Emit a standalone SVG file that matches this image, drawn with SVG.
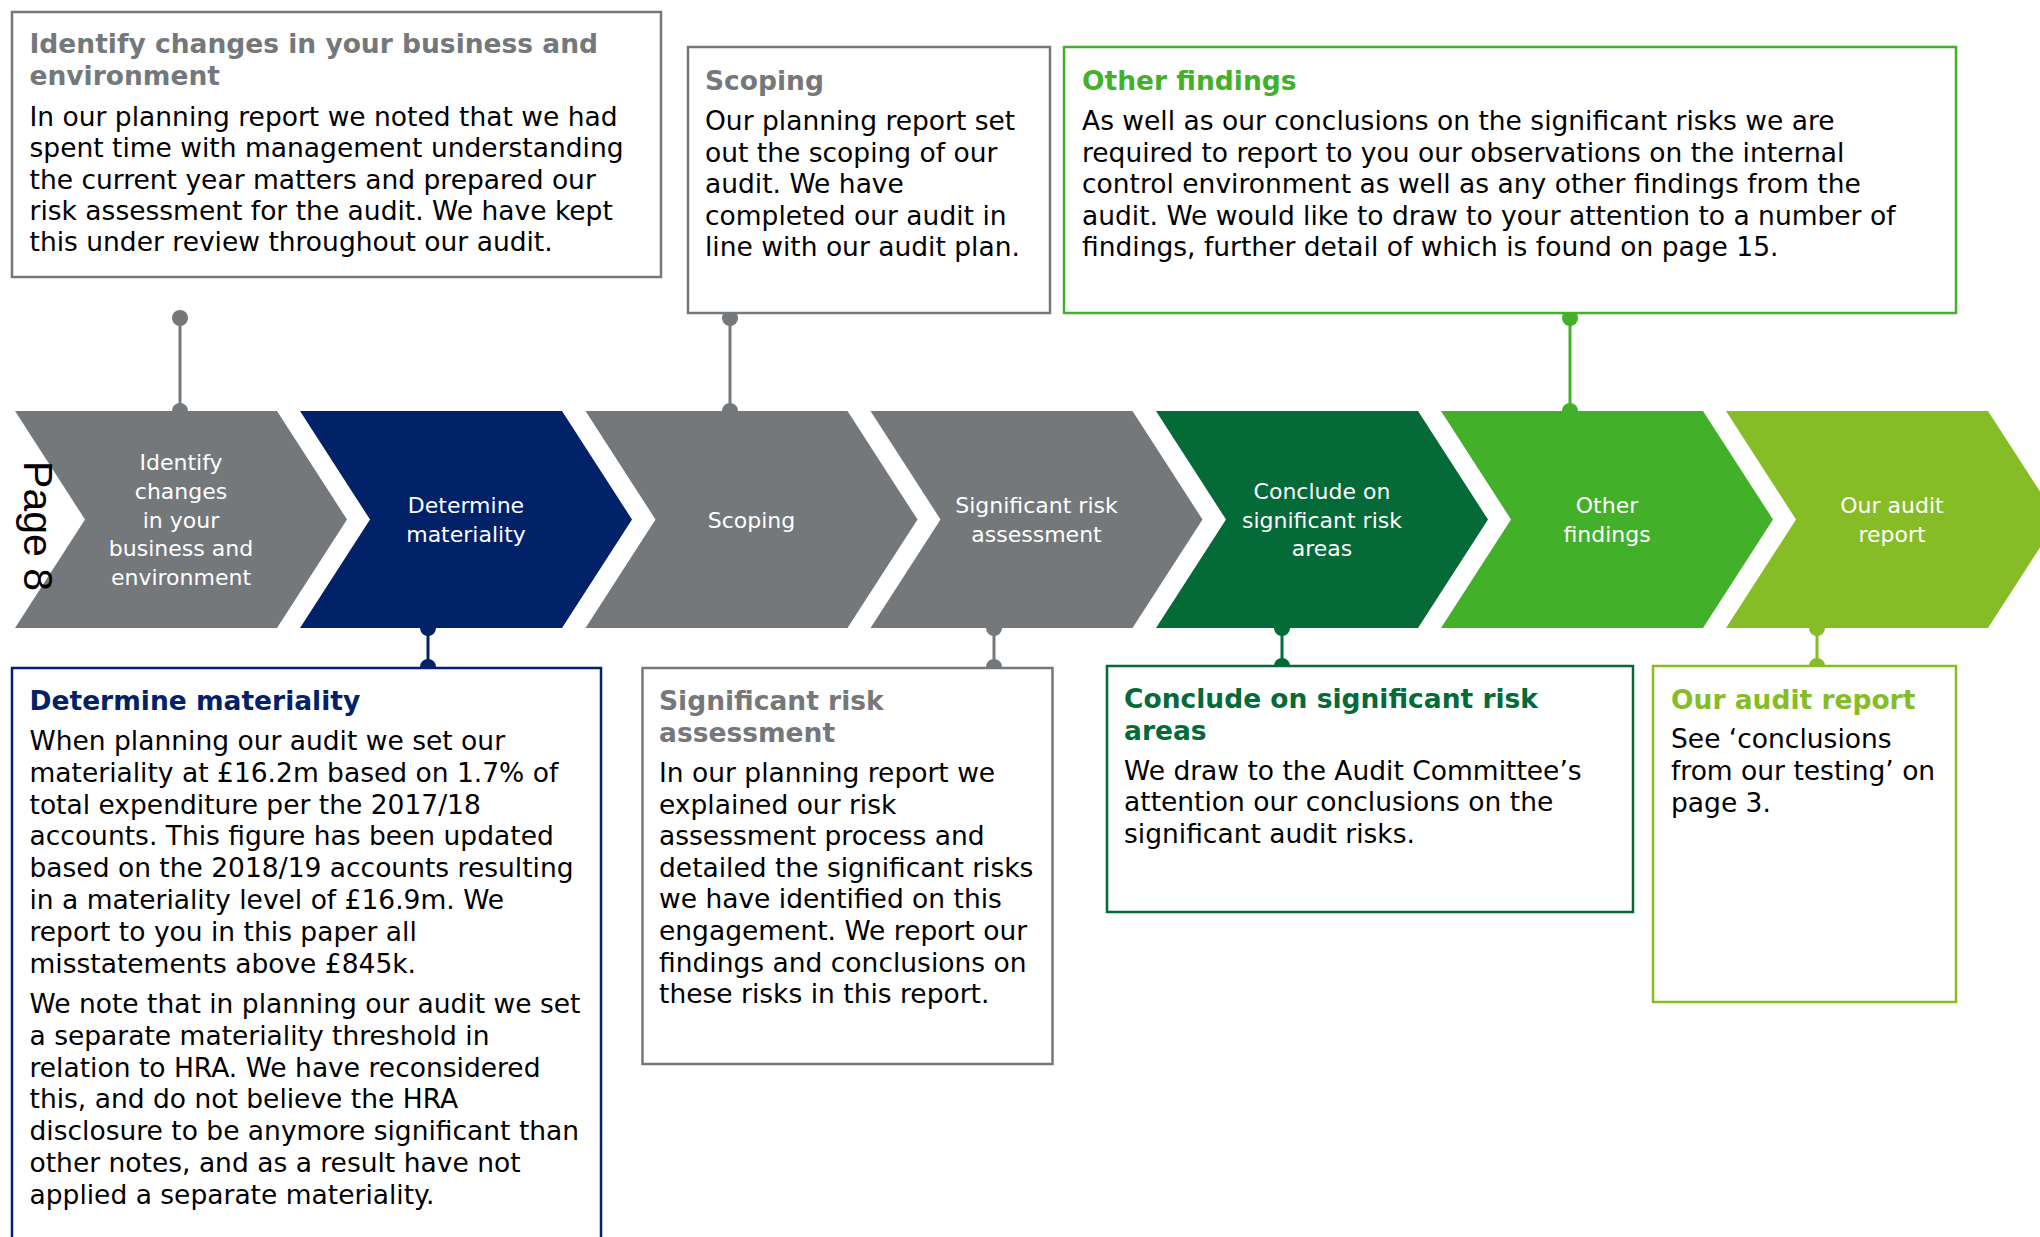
<svg xmlns="http://www.w3.org/2000/svg" width="2040" height="1237" viewBox="0 0 2040 1237">
  <style>
    text { font-family: "DejaVu Sans", Verdana, sans-serif; }
    .body { font-size: 26.5px; fill: #000000; }
    .ttl { font-size: 26.5px; font-weight: bold; }
    .lbl { font-size: 22px; fill: #ffffff; text-anchor: middle; }
    .box { fill: #ffffff; stroke-width: 2.5; }
    .gray { fill: #75787b; }
    .navy { fill: #012169; }
    .dgreen { fill: #046a38; }
    .green { fill: #43b02a; }
    .lime { fill: #86bc25; }
    .s-gray { stroke: #75787b; }
    .s-navy { stroke: #012169; }
    .s-dgreen { stroke: #046a38; }
    .s-green { stroke: #43b02a; }
    .s-lime { stroke: #86bc25; }
    .pin { stroke-width: 3; fill: none; }
    .page { font-family: "Liberation Sans", Arial, sans-serif; font-size: 41px; fill: #000000; text-anchor: middle; }
  </style>

  <rect width="2040" height="1237" fill="#ffffff"/>

  <!-- process chevrons -->
  <g id="step-identify">
    <path class="gray" d="M15,411 H277 L347,519.5 L277,628 H15 L85,519.5 Z"/>
    <text class="lbl"><tspan x="181" y="470.3">Identify</tspan><tspan x="181" y="498.9">changes</tspan><tspan x="181" y="527.5">in your</tspan><tspan x="181" y="556.1">business and</tspan><tspan x="181" y="584.7">environment</tspan></text>
  </g>
  <g id="step-materiality">
    <path class="navy" d="M300,411 H562 L632,519.5 L562,628 H300 L370,519.5 Z"/>
    <text class="lbl"><tspan x="466" y="513.2">Determine</tspan><tspan x="466" y="541.8">materiality</tspan></text>
  </g>
  <g id="step-scoping">
    <path class="gray" d="M585.5,411 H847.5 L917.5,519.5 L847.5,628 H585.5 L655.5,519.5 Z"/>
    <text class="lbl" x="751.5" y="527.5">Scoping</text>
  </g>
  <g id="step-risk">
    <path class="gray" d="M870.5,411 H1132.5 L1202.5,519.5 L1132.5,628 H870.5 L940.5,519.5 Z"/>
    <text class="lbl"><tspan x="1036.5" y="513.2">Significant risk</tspan><tspan x="1036.5" y="541.8">assessment</tspan></text>
  </g>
  <g id="step-conclude">
    <path class="dgreen" d="M1156,411 H1418 L1488,519.5 L1418,628 H1156 L1226,519.5 Z"/>
    <text class="lbl"><tspan x="1322" y="498.9">Conclude on</tspan><tspan x="1322" y="527.5">significant risk</tspan><tspan x="1322" y="556.1">areas</tspan></text>
  </g>
  <g id="step-findings">
    <path class="green" d="M1441,411 H1703 L1773,519.5 L1703,628 H1441 L1511,519.5 Z"/>
    <text class="lbl"><tspan x="1607" y="513.2">Other</tspan><tspan x="1607" y="541.8">findings</tspan></text>
  </g>
  <g id="step-report">
    <path class="lime" d="M1726,411 H1988 L2058,519.5 L1988,628 H1726 L1796,519.5 Z"/>
    <text class="lbl"><tspan x="1892" y="513.2">Our audit</tspan><tspan x="1892" y="541.8">report</tspan></text>
  </g>

  <text class="page" transform="translate(24,526) rotate(90)">Page 8</text>

  <!-- pins linking chevrons and description boxes -->
  <g id="connectors">
    <line class="pin s-gray" x1="180" y1="318" x2="180" y2="411"/>
    <circle class="gray" cx="180" cy="318" r="8"/>
    <circle class="gray" cx="180" cy="411" r="8"/>

    <line class="pin s-gray" x1="730" y1="318" x2="730" y2="411"/>
    <circle class="gray" cx="730" cy="318" r="8"/>
    <circle class="gray" cx="730" cy="411" r="8"/>

    <line class="pin s-green" x1="1570" y1="318" x2="1570" y2="411"/>
    <circle class="green" cx="1570" cy="318" r="8"/>
    <circle class="green" cx="1570" cy="411" r="8"/>

    <line class="pin s-navy" x1="428" y1="628" x2="428" y2="667"/>
    <circle class="navy" cx="428" cy="628" r="8"/>
    <circle class="navy" cx="428" cy="667" r="8"/>

    <line class="pin s-gray" x1="994" y1="628" x2="994" y2="667"/>
    <circle class="gray" cx="994" cy="628" r="8"/>
    <circle class="gray" cx="994" cy="667" r="8"/>

    <line class="pin s-dgreen" x1="1282" y1="628" x2="1282" y2="666"/>
    <circle class="dgreen" cx="1282" cy="628" r="8"/>
    <circle class="dgreen" cx="1282" cy="666" r="8"/>

    <line class="pin s-lime" x1="1817" y1="628" x2="1817" y2="666"/>
    <circle class="lime" cx="1817" cy="628" r="8"/>
    <circle class="lime" cx="1817" cy="666" r="8"/>
  </g>

  <!-- description boxes -->
  <g id="box-identify">
    <rect class="box s-gray" x="12" y="12" width="649" height="265"/>
    <text class="ttl gray"><tspan x="29.5" y="53">Identify changes in your business and</tspan><tspan x="29.5" y="85">environment</tspan></text>
    <text class="body"><tspan x="29.5" y="126">In our planning report we noted that we had</tspan><tspan x="29.5" y="157.3">spent time with management understanding</tspan><tspan x="29.5" y="188.6">the current year matters and prepared our</tspan><tspan x="29.5" y="219.9">risk assessment for the audit. We have kept</tspan><tspan x="29.5" y="251.2">this under review throughout our audit.</tspan></text>
  </g>

  <g id="box-scoping">
    <rect class="box s-gray" x="688" y="47" width="362" height="266"/>
    <text class="ttl gray" x="705" y="90">Scoping</text>
    <text class="body"><tspan x="705" y="130">Our planning report set</tspan><tspan x="705" y="161.5">out the scoping of our</tspan><tspan x="705" y="193">audit. We have</tspan><tspan x="705" y="224.5">completed our audit in</tspan><tspan x="705" y="256">line with our audit plan.</tspan></text>
  </g>

  <g id="box-findings">
    <rect class="box s-green" x="1064" y="47" width="892" height="266"/>
    <text class="ttl green" x="1082" y="90">Other findings</text>
    <text class="body"><tspan x="1082" y="130">As well as our conclusions on the significant risks we are</tspan><tspan x="1082" y="161.5">required to report to you our observations on the internal</tspan><tspan x="1082" y="193">control environment as well as any other findings from the</tspan><tspan x="1082" y="224.5">audit. We would like to draw to your attention to a number of</tspan><tspan x="1082" y="256">findings, further detail of which is found on page 15.</tspan></text>
  </g>

  <g id="box-materiality">
    <rect class="box s-navy" x="12" y="668" width="589" height="600"/>
    <text class="ttl navy" x="29.5" y="710">Determine materiality</text>
    <text class="body"><tspan x="29.5" y="750">When planning our audit we set our</tspan><tspan x="29.5" y="781.8">materiality at £16.2m based on 1.7% of</tspan><tspan x="29.5" y="813.6">total expenditure per the 2017/18</tspan><tspan x="29.5" y="845.4">accounts. This figure has been updated</tspan><tspan x="29.5" y="877.2">based on the 2018/19 accounts resulting</tspan><tspan x="29.5" y="909">in a materiality level of £16.9m. We</tspan><tspan x="29.5" y="940.8">report to you in this paper all</tspan><tspan x="29.5" y="972.6">misstatements above £845k.</tspan></text>
    <text class="body"><tspan x="29.5" y="1013">We note that in planning our audit we set</tspan><tspan x="29.5" y="1044.8">a separate materiality threshold in</tspan><tspan x="29.5" y="1076.6">relation to HRA. We have reconsidered</tspan><tspan x="29.5" y="1108.4">this, and do not believe the HRA</tspan><tspan x="29.5" y="1140.2">disclosure to be anymore significant than</tspan><tspan x="29.5" y="1172">other notes, and as a result have not</tspan><tspan x="29.5" y="1203.8">applied a separate materiality.</tspan></text>
  </g>

  <g id="box-risk">
    <rect class="box s-gray" x="642.5" y="668" width="410" height="396"/>
    <text class="ttl gray"><tspan x="659" y="710">Significant risk</tspan><tspan x="659" y="741.7">assessment</tspan></text>
    <text class="body"><tspan x="659" y="782">In our planning report we</tspan><tspan x="659" y="813.6">explained our risk</tspan><tspan x="659" y="845.2">assessment process and</tspan><tspan x="659" y="876.8">detailed the significant risks</tspan><tspan x="659" y="908.4">we have identified on this</tspan><tspan x="659" y="940">engagement. We report our</tspan><tspan x="659" y="971.6">findings and conclusions on</tspan><tspan x="659" y="1003.2">these risks in this report.</tspan></text>
  </g>

  <g id="box-conclude">
    <rect class="box s-dgreen" x="1107" y="666" width="526" height="246"/>
    <text class="ttl dgreen"><tspan x="1124" y="708">Conclude on significant risk</tspan><tspan x="1124" y="739.5">areas</tspan></text>
    <text class="body"><tspan x="1124" y="779.5">We draw to the Audit Committee’s</tspan><tspan x="1124" y="811">attention our conclusions on the</tspan><tspan x="1124" y="842.5">significant audit risks.</tspan></text>
  </g>

  <g id="box-report">
    <rect class="box s-lime" x="1653" y="666" width="303" height="336"/>
    <text class="ttl lime" x="1671" y="709">Our audit report</text>
    <text class="body"><tspan x="1671" y="748">See ‘conclusions</tspan><tspan x="1671" y="780">from our testing’ on</tspan><tspan x="1671" y="812">page 3.</tspan></text>
  </g>
</svg>
